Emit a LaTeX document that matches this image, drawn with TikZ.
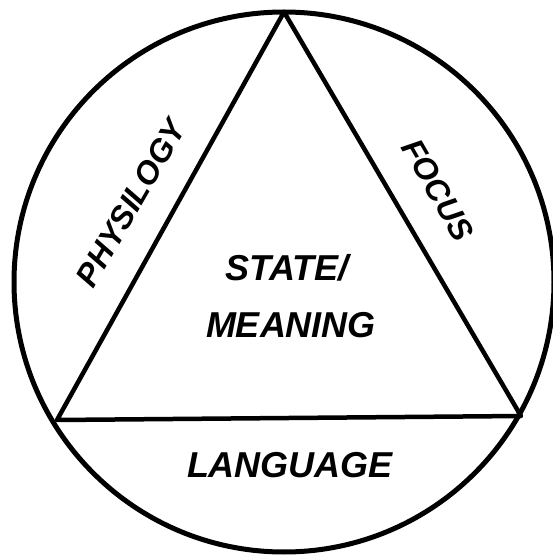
\documentclass[tikz,border=0pt]{standalone}
\usepackage{fontspec}
\setmainfont{Liberation Sans}
\usepackage{tikz}
\usetikzlibrary{positioning, calc}
\tikzset{
  ringline/.style={line width=5pt, draw=black},
  triline/.style={line width=4.5pt, draw=black, line join=round, line cap=round},
  handtext/.style={font=\fontsize{36}{40}\selectfont\bfseries\itshape,
                   align=center, inner sep=0pt},
  sidetext/.style={handtext, font=\fontsize{32}{36}\selectfont\bfseries\itshape}
}
\begin{document}
\begin{tikzpicture}[x=1pt, y=1pt]
  \useasboundingbox (0,0) rectangle (553,558);
  % circle and triangle
  \coordinate (mid) at (284,276);
  \coordinate (apex) at (284,546);
  \coordinate (baseL) at (57,138);
  \coordinate (baseR) at (521,142);
  \draw[ringline] (mid) circle (270);
  \draw[triline] (apex) -- (baseL) -- (baseR) -- cycle;
  % labels
  \node[sidetext, rotate=60] (physio) at (131,355) {PHYSILOGY};
  \node[sidetext, rotate=-60] (focus) at (438,368) {FOCUS};
  \node[handtext] (state) at (287,290) {STATE/};
  \node[handtext] (meaning) at (291,233) {MEANING};
  \node[handtext] (lang) at (290,93) {LANGUAGE};
\end{tikzpicture}
\end{document}
